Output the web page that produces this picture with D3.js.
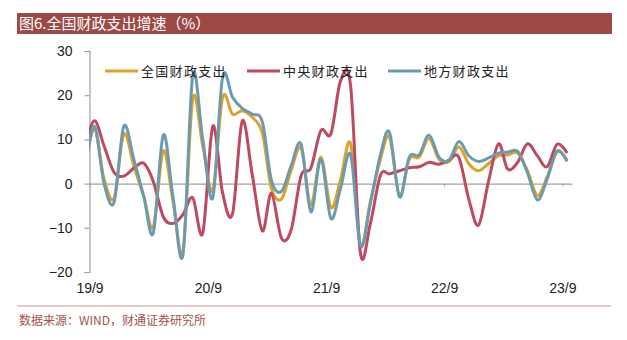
<!doctype html>
<html>
<head>
<meta charset="utf-8">
<title>全国财政支出增速</title>
<style>
  body { margin: 0; background: #fff; }
  svg text { font-family: "Liberation Sans", Arial, sans-serif; }
  .cjk { font-family: "Noto Sans CJK SC", sans-serif !important; }
</style>
</head>
<body>
<div class="chart"></div>
<script src="https://cdn.jsdelivr.net/npm/d3@7"></script>
<script>
// monthly, the first month sits left of the axis and is clipped
const months = [
  "2019-08","2019-09","2019-10","2019-11","2019-12",
  "2020-01","2020-02","2020-03","2020-04","2020-05","2020-06","2020-07","2020-08","2020-09","2020-10","2020-11","2020-12",
  "2021-01","2021-02","2021-03","2021-04","2021-05","2021-06","2021-07","2021-08","2021-09","2021-10","2021-11","2021-12",
  "2022-01","2022-02","2022-03","2022-04","2022-05","2022-06","2022-07","2022-08","2022-09","2022-10","2022-11","2022-12",
  "2023-01","2023-02","2023-03","2023-04","2023-05","2023-06","2023-07","2023-08","2023-09"
];
const national = [3, 12.5, 1.0, -3.2, 11.2, 4.0, -3.0, -9.8, 7.4, -4.0, -15.3, 19.2, 8.5, -1.5, 19.4, 15.7, 16.5,
  15.0, 11.5, -1.0, -3.5, 3.0, 8.0, -4.8, 6.0, -5.4, 1.0, 9.0, -14.0,
  -4.0, 5.5, 10.5, -2.8, 5.5, 6.0, 10.2, 5.5, 5.0, 8.3, 4.5, 2.9,
  4.5, 6.3, 6.5, 6.9, 3.0, -2.7, 1.5, 7.2, 5.3];
const central = [8, 14.2, 8.5, 2.5, 1.7, 3.5, 4.6, 0.5, -7.5, -9.0, -7.0, -3.2, -11.2, 13.0, -2.0, -6.8, 14.2,
  2.0, -10.7, -2.2, -12.3, -10.5, 1.8, 3.5, 12.0, 11.3, 23.3, 22.0, -15.6,
  -9.0, 1.9, 2.2, 2.9, 3.6, 3.8, 4.8, 4.4, 5.3, 6.0, -3.5, -9.4,
  0.5, 9.0, 3.3, 4.8, 9.0, 6.3, 3.8, 8.9, 6.9];
const local = [2, 13.0, 0.0, -4.2, 13.0, 5.5, -3.0, -11.2, 11.0, -3.0, -16.0, 24.5, 10.0, -3.2, 24.0, 19.5, 17.0,
  15.7, 14.0, 0.8, -1.8, 4.0, 8.9, -6.4, 5.5, -7.9, -1.0, 6.5, -14.0,
  -4.5, 6.5, 11.6, -3.0, 6.0, 6.5, 11.0, 6.0, 5.3, 9.5, 6.3, 5.0,
  5.8, 6.9, 7.1, 7.3, 2.5, -3.7, 1.0, 7.4, 5.0];

const seriesNames = ["全国财政支出", "中央财政支出", "地方财政支出"];
const seriesData = [national, central, local];
const seriesColors = ["#dea12b", "#bc4a60", "#6c9bb0"];
const tickLabels = ["19/9", "20/9", "21/9", "22/9", "23/9"];
const yTicks = [-20, -10, 0, 10, 20, 30];

const W = 627, H = 340;
const plotLeft = 89.5, plotRight = 572, plotTop = 51, plotBottom = 272;

const svg = d3.select(".chart").append("svg")
  .attr("width", W).attr("height", H);

// title bar
svg.append("rect").attr("x", 17).attr("y", 13).attr("width", 595).attr("height", 21)
  .attr("fill", "#9d4a46");
svg.append("text").attr("class", "cjk").attr("x", 19).attr("y", 29)
  .attr("fill", "#fff").attr("font-size", 15)
  .text("图6.全国财政支出增速（%）");

const parseMonth = d3.timeParse("%Y-%m");
const parseTick = d3.timeParse("%y/%m");
const dates = months.map(parseMonth);
const tickDates = tickLabels.map(parseTick);

const x = d3.scaleTime()
  .domain([parseTick("19/9"), new Date(2023, 9, 1)])
  .range([plotLeft, plotRight]);
const y = d3.scaleLinear().domain([-20, 30]).range([plotBottom, plotTop]);

// y axis
const yAxis = svg.append("g").attr("transform", `translate(${plotLeft},0)`)
  .call(d3.axisLeft(y).tickValues(yTicks).tickSize(5).tickPadding(12));
yAxis.select(".domain").attr("stroke", "#a0a0a0").attr("stroke-width", 1.2);
yAxis.selectAll(".tick line").attr("stroke", "#a0a0a0").attr("stroke-width", 1.2);
yAxis.selectAll("text").attr("font-size", 14).attr("fill", "#222")
  .attr("font-family", "Liberation Sans, Arial, sans-serif");

// zero line with small ticks
const zeroAxis = svg.append("g").attr("transform", `translate(0,${y(0)})`)
  .call(d3.axisBottom(x).tickValues(tickDates).tickSize(3).tickSizeOuter(0).tickFormat(""));
zeroAxis.select(".domain").attr("stroke", "#a0a0a0").attr("stroke-width", 1.4);
zeroAxis.selectAll(".tick line").attr("stroke", "#a0a0a0");

// month labels along the bottom
const labelAxis = svg.append("g").attr("transform", `translate(0,${plotBottom})`)
  .call(d3.axisBottom(x).tickValues(tickDates).tickSize(0).tickPadding(11)
    .tickFormat((d, i) => tickLabels[i]));
labelAxis.select(".domain").remove();
labelAxis.selectAll("text").attr("font-size", 14).attr("fill", "#222")
  .attr("font-family", "Liberation Sans, Arial, sans-serif");

// lines
svg.append("clipPath").attr("id", "plot")
  .append("rect").attr("x", plotLeft - 0.5).attr("y", 0)
  .attr("width", plotRight - plotLeft + 1).attr("height", H);

const line = d3.line()
  .x((d, i) => x(d3.timeDay.offset(dates[i], 15)))
  .y(d => y(d))
  .curve(d3.curveCardinal.tension(0));

svg.append("g").attr("clip-path", "url(#plot)")
  .selectAll("path").data(seriesData).join("path")
  .attr("d", line)
  .attr("fill", "none")
  .attr("stroke", (d, i) => seriesColors[i])
  .attr("stroke-width", 3)
  .attr("stroke-linejoin", "round");

// legend
const legendX = [105, 247, 388];
const legend = svg.append("g").selectAll("g").data(seriesNames).join("g")
  .attr("transform", (d, i) => `translate(${legendX[i]},71)`);
legend.append("line").attr("x1", 0).attr("x2", 33)
  .attr("stroke", (d, i) => seriesColors[i]).attr("stroke-width", 3);
legend.append("text").attr("class", "cjk").attr("x", 36).attr("y", 5)
  .attr("font-size", 13).attr("letter-spacing", 1.3).attr("fill", "#222")
  .text(d => d);

// source line
svg.append("line").attr("x1", 17).attr("x2", 611).attr("y1", 306).attr("y2", 306)
  .attr("stroke", "#c99493").attr("stroke-width", 1);
svg.append("text").attr("class", "cjk").attr("x", 19).attr("y", 325)
  .attr("font-size", 12).attr("fill", "#a3524f")
  .text("数据来源：WIND，财通证券研究所");
</script>
</body>
</html>
